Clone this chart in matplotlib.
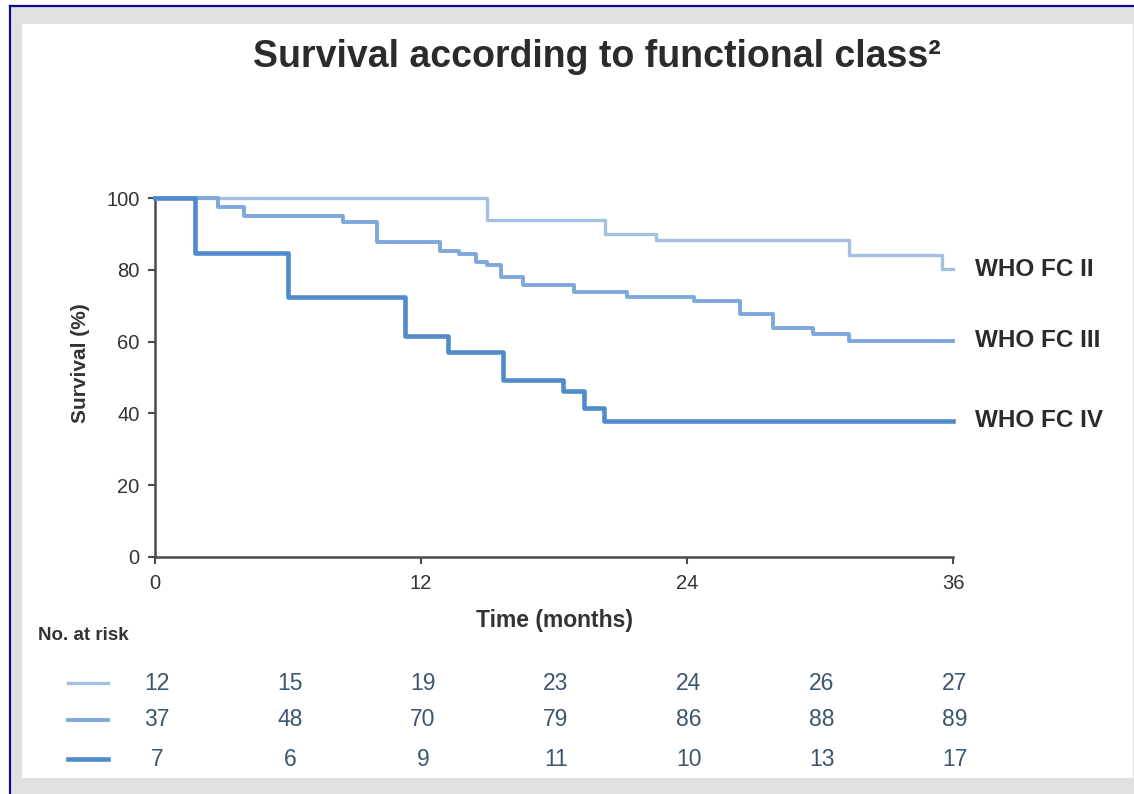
import matplotlib
matplotlib.use('Agg')
import matplotlib.pyplot as plt
from matplotlib.patches import Rectangle
from matplotlib.lines import Line2D

plt.rcParams['font.family'] = ['Liberation Sans', 'DejaVu Sans']

# Kaplan-Meier step data (months, survival %)
fc2_time = [0, 15.0, 20.3, 22.6, 31.3, 35.5, 36]
fc2_surv = [100, 94.0, 90.0, 88.3, 84.0, 80.2, 80.2]

fc3_time = [0, 2.85, 4.0, 8.5, 10.0, 12.85, 13.7, 14.5, 15.0, 15.6, 16.6,
            18.9, 21.3, 24.3, 26.4, 27.9, 29.7, 31.3, 36]
fc3_surv = [100, 97.5, 95.0, 93.3, 87.7, 85.2, 84.4, 82.2, 81.3, 78.0, 75.8,
            73.8, 72.4, 71.3, 67.7, 63.8, 62.1, 60.2, 60.2]

fc4_time = [0, 1.8, 6.0, 11.3, 13.2, 15.7, 18.4, 19.35, 20.25, 36]
fc4_surv = [100, 84.7, 72.4, 61.6, 57.1, 49.3, 46.2, 41.5, 37.9, 37.9]

group_labels = ['WHO FC II', 'WHO FC III', 'WHO FC IV']
risk_times = [0, 6, 12, 18, 24, 30, 36]
risk_fc2 = [12, 15, 19, 23, 24, 26, 27]
risk_fc3 = [37, 48, 70, 79, 86, 88, 89]
risk_fc4 = [7, 6, 9, 11, 10, 13, 17]

colors = ['#a3bfe3', '#7ea8da', '#4f8aca']
widths = [2.4, 2.8, 3.3]

W, H = 1134, 794
fig = plt.figure(figsize=(W / 100, H / 100), dpi=100)
fig.patch.set_facecolor('white')

# frame: gray band, white panel, dark blue rule on top and left
fig.patches.append(Rectangle((10 / W, 0), 1 - 10 / W, 1 - 7 / H, transform=fig.transFigure,
                             facecolor='#e0e0e0', edgecolor='none', zorder=-3))
fig.patches.append(Rectangle((22 / W, 1 - 778 / H), (1133 - 22) / W, (778 - 24) / H,
                             transform=fig.transFigure, facecolor='white',
                             edgecolor='none', zorder=-2))
fig.lines.append(Line2D([9.5 / W, 9.5 / W], [0, 1 - 5.5 / H], transform=fig.transFigure,
                        color='#0a0a8c', lw=1.6))
fig.lines.append(Line2D([9.5 / W, 1], [1 - 5.5 / H, 1 - 5.5 / H], transform=fig.transFigure,
                        color='#0a0a8c', lw=1.6))

ax = fig.add_axes([155 / W, 1 - 557 / H, (953 - 155) / W, (557 - 198) / H])
ax.set_facecolor('none')

series = [(fc2_time, fc2_surv), (fc3_time, fc3_surv), (fc4_time, fc4_surv)]
for (t, s), c, lw, lab in zip(series, colors, widths, group_labels):
    ax.step(t, s, where='post', color=c, lw=lw, clip_on=False, zorder=3)
    ax.annotate(lab, xy=(36, s[-1]), xytext=(16, 0), textcoords='offset points',
                va='center', ha='left', fontsize=17.5, fontweight='bold',
                color='#2b2b2b', annotation_clip=False)

ax.set_xlim(0, 36)
ax.set_ylim(0, 100)
ax.set_xticks([0, 12, 24, 36])
ax.set_yticks([0, 20, 40, 60, 80, 100])
for side in ['top', 'right']:
    ax.spines[side].set_visible(False)
for side in ['left', 'bottom']:
    ax.spines[side].set_color('#4a4a4a')
    ax.spines[side].set_linewidth(1.8)
ax.tick_params(axis='both', colors='#4a4a4a', width=1.5, length=5,
               labelsize=14.5, labelcolor='#333333')
ax.tick_params(axis='x', pad=7)
ax.tick_params(axis='y', pad=6)
ax.set_xlabel('Time (months)', fontsize=16.5, fontweight='bold', color='#333333',
              labelpad=12)
ax.set_ylabel('Survival (%)', fontsize=15, fontweight='bold', color='#333333',
              labelpad=14)
ax.yaxis.set_label_coords(-0.082, 0.54)

fig.text(597 / W, 1 - 57 / H, 'Survival according to functional class²',
         ha='center', va='center', fontsize=27, fontweight='bold', color='#2b2b2b')

# number-at-risk table
fig.text(38 / W, 1 - 636 / H, 'No. at risk', ha='left', va='center',
         fontsize=13.5, fontweight='bold', color='#333333')
row_y = [683, 720, 759]
for risk, c, lw, yy in zip([risk_fc2, risk_fc3, risk_fc4], colors, widths, row_y):
    yf = 1 - yy / H
    fig.lines.append(Line2D([68 / W, 108 / W], [yf, yf], transform=fig.transFigure,
                            color=c, lw=lw))
    for t, n in zip(risk_times, risk):
        xd = ax.transData.transform((t, 0))[0]
        fig.text(xd / W + 2 / W, yf, str(n), ha='center', va='center',
                 fontsize=16.5, color='#3c5670')

fig.savefig('out.png', dpi=100)
